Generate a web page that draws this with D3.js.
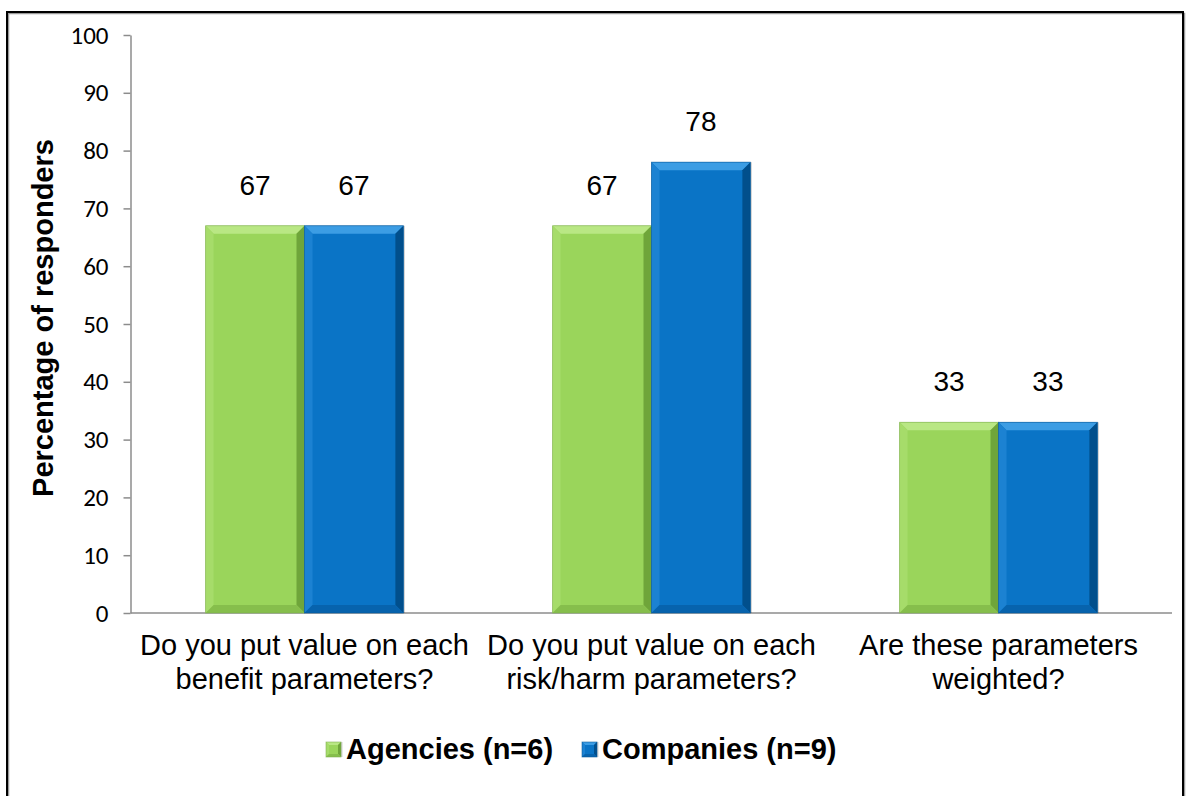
<!DOCTYPE html>
<html>
<head>
<meta charset="utf-8">
<script src="https://cdn.jsdelivr.net/npm/d3@7"></script>
<style>
  html, body { margin: 0; padding: 0; background: #fff; }
  svg { display: block; }
</style>
</head>
<body>
<svg id="chart" width="1187" height="796"></svg>
<script>
// Survey questions (x categories), each wrapped onto two lines
const categories = [
  ["Do you put value on each", "benefit parameters?"],
  ["Do you put value on each", "risk/harm parameters?"],
  ["Are these parameters", "weighted?"]
];
const seriesNames = ["Agencies (n=6)", "Companies (n=9)"];
// Percentage of responders answering yes
const agencies  = [67, 67, 33];
const companies = [67, 78, 33];
const yTicks = [0, 10, 20, 30, 40, 50, 60, 70, 80, 90, 100];

const palette = [
  { base: "#9AD55B", top: "#B9E784", left: "#A6DC6A", right: "#6FA53A", bottom: "#86BE4C", edge: "#7FAF4E" },
  { base: "#0A74C6", top: "#3C9DE4", left: "#1C82D2", right: "#014F8C", bottom: "#0763AD", edge: "#0A5A98" }
];

const svg = d3.select("#chart");
const W = 1187, H = 796;
const margin = { left: 131, right: 15, top: 35, bottom: 183 };

// outer frame with a soft shadow
svg.append("rect").attr("x", 8.5).attr("y", 13.5).attr("width", 1176).attr("height", 800)
  .attr("fill", "none").attr("stroke", "#9a9a9a").attr("stroke-width", 1.5);
svg.append("rect").attr("x", 7).attr("y", 12).attr("width", 1176).attr("height", 800)
  .attr("fill", "none").attr("stroke", "#000").attr("stroke-width", 2);

const x0 = d3.scaleBand()
  .domain(d3.range(categories.length))
  .range([margin.left, W - margin.right])
  .paddingInner(0.43).paddingOuter(0.215);
const x1 = d3.scaleBand().domain([0, 1]).range([0, x0.bandwidth()]);
const y = d3.scaleLinear().domain([0, 100]).range([H - margin.bottom, margin.top]);

// y axis
const yAxis = svg.append("g")
  .attr("transform", `translate(${margin.left - 0.5},0)`)
  .call(d3.axisLeft(y).tickValues(yTicks).tickSize(7).tickSizeOuter(0).tickPadding(15));
yAxis.select(".domain").attr("stroke", "#8c8c8c").attr("stroke-width", 1.5);
yAxis.selectAll(".tick line").attr("stroke", "#8c8c8c").attr("stroke-width", 1.5);
yAxis.selectAll(".tick text")
  .attr("font-family", "Carlito, Calibri, Lato, sans-serif")
  .attr("font-size", 25).attr("fill", "#000");

// x axis baseline
svg.append("line")
  .attr("x1", margin.left - 0.5).attr("x2", W - margin.right)
  .attr("y1", y(0)).attr("y2", y(0))
  .attr("stroke", "#8c8c8c").attr("stroke-width", 1.5);

// bevelled box: flat face plus four edge facets
function bevelBox(g, bx, by, bw, bh, c, b) {
  b = Math.min(b, bw / 2, bh / 2);
  g.append("rect").attr("x", bx + 1.5).attr("y", by).attr("width", bw).attr("height", bh)
    .attr("fill", "#000").attr("opacity", 0.18);
  g.append("rect").attr("x", bx).attr("y", by).attr("width", bw).attr("height", bh).attr("fill", c.base);
  const x2 = bx + bw, y2 = by + bh;
  const facet = (pts, fill) => g.append("polygon").attr("points", pts.map(p => p.join(",")).join(" ")).attr("fill", fill);
  facet([[bx, by], [x2, by], [x2 - b, by + b], [bx + b, by + b]], c.top);
  facet([[bx, by], [bx + b, by + b], [bx + b, y2 - b], [bx, y2]], c.left);
  facet([[x2, by], [x2, y2], [x2 - b, y2 - b], [x2 - b, by + b]], c.right);
  facet([[bx, y2], [bx + b, y2 - b], [x2 - b, y2 - b], [x2, y2]], c.bottom);
  g.append("rect").attr("x", bx).attr("y", by).attr("width", bw).attr("height", bh)
    .attr("fill", "none").attr("stroke", c.edge).attr("stroke-width", 0.8).attr("opacity", 0.7);
}

const series = [agencies, companies];
const bars = svg.append("g");
categories.forEach((cat, i) => {
  series.forEach((vals, s) => {
    const v = vals[i];
    const bx = x0(i) + x1(s);
    bevelBox(bars, bx, y(v), x1.bandwidth(), y(0) - y(v), palette[s], 8);
    bars.append("text")
      .attr("x", bx + x1.bandwidth() / 2)
      .attr("y", y(v) - 31)
      .attr("text-anchor", "middle")
      .attr("font-family", "Liberation Sans, Arial, sans-serif")
      .attr("font-size", 28).attr("fill", "#000")
      .text(d3.format(".0f")(v));
  });
});

// category labels
const catG = svg.append("g");
categories.forEach((lines, i) => {
  const t = catG.append("text")
    .attr("text-anchor", "middle")
    .attr("font-family", "Liberation Sans, Arial, sans-serif")
    .attr("font-size", 29).attr("fill", "#000");
  lines.forEach((ln, k) => {
    t.append("tspan")
      .attr("x", x0(i) + x0.bandwidth() / 2)
      .attr("y", 655 + k * 34)
      .text(ln);
  });
});

// y axis title
svg.append("text")
  .attr("transform", `translate(53,${(y(0) + y(100)) / 2 - 6}) rotate(-90)`)
  .attr("text-anchor", "middle")
  .attr("font-family", "Liberation Sans, Arial, sans-serif")
  .attr("font-weight", "bold").attr("font-size", 29).attr("fill", "#000")
  .text("Percentage of responders");

// legend
const legendX = [326, 582];
const legend = svg.append("g");
seriesNames.forEach((name, s) => {
  bevelBox(legend, legendX[s], 742, 15, 15, palette[s], 3);
  legend.append("text")
    .attr("x", legendX[s] + 20).attr("y", 759)
    .attr("font-family", "Liberation Sans, Arial, sans-serif")
    .attr("font-weight", "bold").attr("font-size", 29).attr("fill", "#000")
    .text(name);
});
</script>
</body>
</html>
